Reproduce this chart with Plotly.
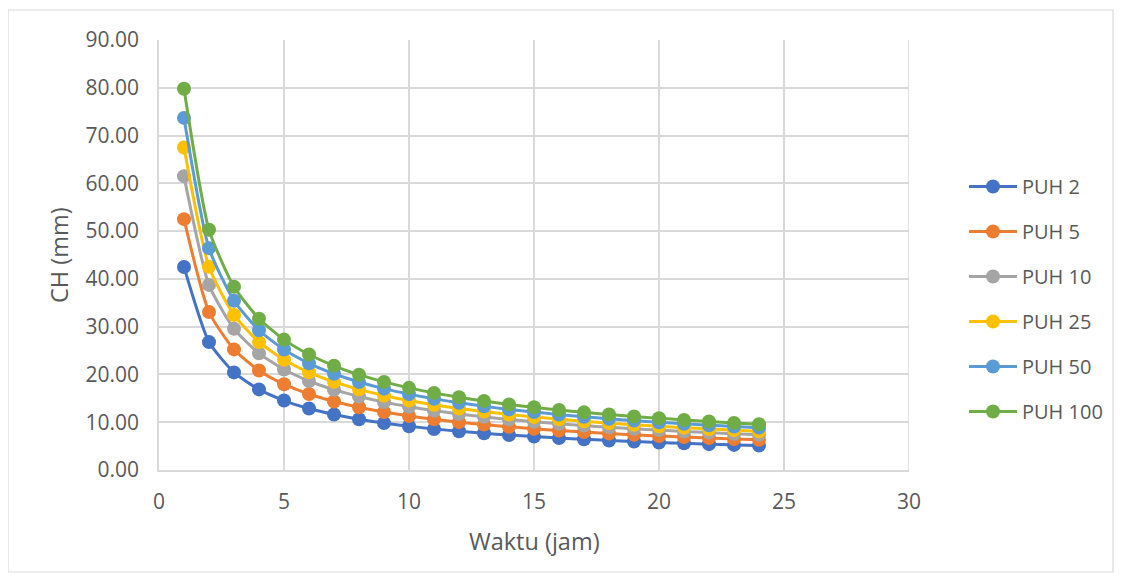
import plotly.graph_objects as go

waktu = list(range(1, 25))
series_names = ["PUH 2", "PUH 5", "PUH 10", "PUH 25", "PUH 50", "PUH 100"]
puh2 = [42.50, 26.77, 20.43, 16.87, 14.54, 12.87, 11.62, 10.63, 9.82, 9.16, 8.59, 8.11,
        7.69, 7.31, 6.99, 6.69, 6.43, 6.19, 5.97, 5.77, 5.58, 5.41, 5.25, 5.11]
puh5 = [52.50, 33.07, 25.24, 20.84, 17.96, 15.90, 14.35, 13.13, 12.13, 11.31, 10.61, 10.02,
        9.50, 9.04, 8.63, 8.27, 7.94, 7.64, 7.37, 7.12, 6.89, 6.68, 6.48, 6.31]
puh10 = [61.50, 38.74, 29.56, 24.41, 21.03, 18.63, 16.81, 15.38, 14.21, 13.25, 12.43, 11.73,
         11.13, 10.58, 10.11, 9.69, 9.30, 8.95, 8.63, 8.35, 8.07, 7.83, 7.60, 7.39]
puh25 = [67.50, 42.52, 32.45, 26.79, 23.09, 20.45, 18.45, 16.88, 15.60, 14.54, 13.64, 12.88,
         12.22, 11.62, 11.10, 10.63, 10.21, 9.83, 9.48, 9.16, 8.86, 8.59, 8.34, 8.11]
puh50 = [73.70, 46.43, 35.43, 29.25, 25.21, 22.32, 20.14, 18.43, 17.03, 15.88, 14.90, 14.06,
         13.34, 12.68, 12.12, 11.61, 11.14, 10.73, 10.35, 10.00, 9.68, 9.38, 9.10, 8.86]
puh100 = [79.80, 50.27, 38.36, 31.67, 27.29, 24.17, 21.81, 19.95, 18.44, 17.19, 16.13, 15.23,
          14.44, 13.73, 13.12, 12.57, 12.07, 11.62, 11.20, 10.83, 10.48, 10.16, 9.86, 9.59]
all_series = [puh2, puh5, puh10, puh25, puh50, puh100]
colors = ["#4472C4", "#ED7D31", "#A5A5A5", "#FFC000", "#5B9BD5", "#70AD47"]
x_title = "Waktu (jam)"
y_title = "CH (mm)"

FONT = "Open Sans, Noto Sans, sans-serif"
TXT = "#595959"
fig = go.Figure()
for name, vals, col in zip(series_names, all_series, colors):
    fig.add_trace(go.Scatter(
        x=waktu, y=vals, name=name, mode="lines+markers", legendgroup=name,
        line=dict(color=col, width=3, shape="spline", smoothing=0.6),
        marker=dict(color=col, size=14, symbol="circle"),
    ))

# page has an 8px body margin; figure is sized so plot area lands on reference pixels
W, H = 1115, 573
L, T, PW, PH = 151, 32, 750, 430
grid = "#d9d9d9"
fig.update_layout(
    width=W, height=H,
    margin=dict(l=L, r=W - L - PW, t=T, b=H - T - PH),
    paper_bgcolor="white", plot_bgcolor="white",
    font=dict(family=FONT, size=21, color=TXT),
    showlegend=True,
    legend=dict(x=(956 - L) / PW, xanchor="left", y=1 - (291 - T) / PH, yanchor="middle",
                font=dict(size=20, color=TXT), tracegroupgap=16,
                itemwidth=48, bgcolor="rgba(0,0,0,0)"),
    xaxis=dict(range=[0, 30], tickvals=[0, 5, 10, 15, 20, 25, 30], showgrid=True,
               gridcolor=grid, gridwidth=1.5, zeroline=False, showline=True,
               linecolor=grid, linewidth=1.5, ticks="", ticklabelstandoff=12,
               tickfont=dict(size=21, color=TXT)),
    yaxis=dict(range=[0, 90], dtick=10, tickformat=".2f", showgrid=True,
               gridcolor=grid, gridwidth=1.5, zeroline=False, showline=True,
               linecolor=grid, linewidth=1.5, ticks="", ticklabelstandoff=14,
               tickfont=dict(size=21, color=TXT)),
    annotations=[
        dict(text=x_title, xref="paper", yref="paper", x=(534 - 8 - L) / PW,
             y=(T + PH - 533) / PH, xanchor="center", yanchor="middle", showarrow=False,
             font=dict(size=23.5, color=TXT)),
        dict(text=y_title, xref="paper", yref="paper", x=(59 - 8 - L) / PW,
             y=0.5, xanchor="center", yanchor="middle", showarrow=False, textangle=-90,
             font=dict(size=23.5, color=TXT)),
    ],
)
fig.add_shape(type="line", xref="x", yref="paper", x0=30, x1=30, y0=0, y1=1,
              line=dict(color=grid, width=1.5))
fig.add_shape(type="rect", xref="paper", yref="paper",
              x0=-L / PW, x1=(1105 - L) / PW, y0=-(564 - T - PH) / PH, y1=(T + PH - 2) / PH,
              line=dict(color="#d9d9d9", width=1.2), layer="below")

fig.write_html("out.html")
